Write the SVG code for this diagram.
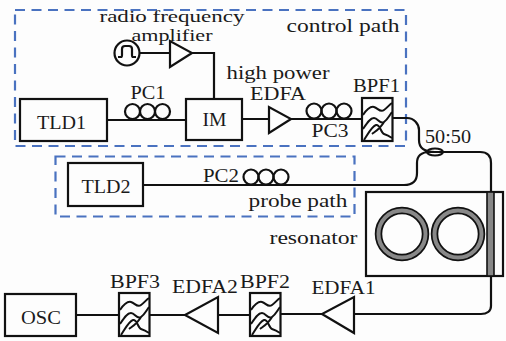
<svg xmlns="http://www.w3.org/2000/svg" width="506" height="341" viewBox="0 0 506 341">
<style>
text{font-family:"Liberation Serif",serif;font-size:19px;fill:#1a1a1a;text-anchor:middle}
text.s{font-size:17.500px}
.b{fill:none;stroke:#111;stroke-width:2.2}
.f{fill:none;stroke:#111;stroke-width:2}
.d{fill:none;stroke:#4a72c0;stroke-width:2.2;stroke-dasharray:10 6.5}
</style>
<defs>
<g id="pc"><circle cx="-15" r="7.500" class="b"/><circle cx="0" r="7.500" class="b"/><circle cx="15" r="7.500" class="b"/></g>
<g id="bpf"><rect x="0" y="0" width="30.500" height="43" class="b"/>
<path class="f" d="M1 17C5 11 8 8 12 9S18 15 22 12S27 7 30 5M1 31C5 25 8 20 12 20S18 27 22 24S27 18 30 14M2 42C6 36 10 28 14 27S19 35 22 36S27 38 30 40M10 36C14 33 18 31 22 24"/></g>
</defs>
<rect width="506" height="341" fill="#fdfdfd"/>
<g id="paths"><rect class="d" x="15" y="10" width="391" height="136"/><rect class="d" x="55.500" y="156.500" width="299" height="60"/></g>
<g id="connectors">
<path class="b" d="M139 53H170M192 53H214V99M107 120H186M242 119H269M291 119H362M143 185H404C412 185 417 181 417 173V163C417 156 421 152 430 152M393 118H407C414 118 419 124 419 130V140C419 148 425 152 435 152H480C487 152 491 156 491 163V306C491 311 487 314 481 314H354M322 314H280M249 315H218M185 315H149M119 315H76"/>
</g>
<g id="pulse"><circle cx="127" cy="53" r="12.500" class="b"/><path class="b" d="M118 57H121C122 57 122 56 122 55V49C122 47 123 46 125 46H129C131 46 132 47 132 49V55C132 56 132 57 133 57H136"/></g>
<g id="amp"><path class="b" d="M170 41V67L192 53Z"/></g>
<g id="tld1"><rect class="b" x="20" y="99" width="87" height="42"/><text x="61.500" y="129" textLength="49" lengthAdjust="spacingAndGlyphs">TLD1</text></g>
<g id="im"><rect class="b" x="186" y="99" width="56" height="41"/><text x="214.500" y="126" textLength="24" lengthAdjust="spacingAndGlyphs">IM</text></g>
<g id="pc1"><use href="#pc" x="147.500" y="111.500"/></g>
<g id="edfa"><path class="b" d="M269 107V133L291 119Z"/></g>
<g id="pc3"><use href="#pc" x="329" y="111"/></g>
<g id="bpf1"><use href="#bpf" x="362" y="98"/></g>
<g id="coupler"><ellipse cx="435" cy="152" rx="8" ry="3.500" class="f"/></g>
<g id="tld2"><rect class="b" x="68" y="163" width="75" height="43"/><text x="106" y="193" textLength="49" lengthAdjust="spacingAndGlyphs">TLD2</text></g>
<g id="pc2"><use href="#pc" x="266" y="177"/></g>
<g id="resonator"><rect class="b" x="366" y="192" width="137" height="84"/>
<circle cx="402" cy="234" r="23.500" fill="none" stroke="#111" stroke-width="7.500"/><circle cx="402" cy="234" r="23.500" fill="none" stroke="#888" stroke-width="4"/>
<circle cx="458" cy="234" r="23.500" fill="none" stroke="#111" stroke-width="7.500"/><circle cx="458" cy="234" r="23.500" fill="none" stroke="#888" stroke-width="4"/>
<rect x="487" y="192" width="7" height="84" fill="#888" stroke="#111" stroke-width="1.600"/></g>
<g id="edfa1"><path class="b" d="M354 297V333L322 314Z"/></g>
<g id="bpf2"><use href="#bpf" x="250" y="293"/></g>
<g id="edfa2"><path class="b" d="M218 297V333L185 315Z"/></g>
<g id="bpf3"><use href="#bpf" x="119" y="293"/></g>
<g id="osc"><rect class="b" x="5" y="294" width="71" height="42"/><text x="41" y="324" textLength="40" lengthAdjust="spacingAndGlyphs">OSC</text></g>
<g id="labels">
<text class="s" x="172" y="22" textLength="145" lengthAdjust="spacingAndGlyphs">radio frequency</text>
<text class="s" x="172" y="41" textLength="81" lengthAdjust="spacingAndGlyphs">amplifier</text>
<text x="148" y="99" textLength="35" lengthAdjust="spacingAndGlyphs">PC1</text>
<text x="278" y="79" textLength="103" lengthAdjust="spacingAndGlyphs">high power</text>
<text x="278" y="100" textLength="56" lengthAdjust="spacingAndGlyphs">EDFA</text>
<text x="330" y="137" textLength="37" lengthAdjust="spacingAndGlyphs">PC3</text>
<text x="376.500" y="92" textLength="47" lengthAdjust="spacingAndGlyphs">BPF1</text>
<text x="343" y="32" textLength="113" lengthAdjust="spacingAndGlyphs">control path</text>
<text x="448" y="143" textLength="46" lengthAdjust="spacingAndGlyphs">50:50</text>
<text x="221" y="182" textLength="36" lengthAdjust="spacingAndGlyphs">PC2</text>
<text x="298" y="207" textLength="99" lengthAdjust="spacingAndGlyphs">probe path</text>
<text x="313.500" y="244" textLength="88" lengthAdjust="spacingAndGlyphs">resonator</text>
<text x="135" y="288" textLength="50" lengthAdjust="spacingAndGlyphs">BPF3</text>
<text x="205" y="293" textLength="66" lengthAdjust="spacingAndGlyphs">EDFA2</text>
<text x="265" y="288" textLength="50" lengthAdjust="spacingAndGlyphs">BPF2</text>
<text x="343.500" y="294" textLength="64" lengthAdjust="spacingAndGlyphs">EDFA1</text>
</g>
</svg>
